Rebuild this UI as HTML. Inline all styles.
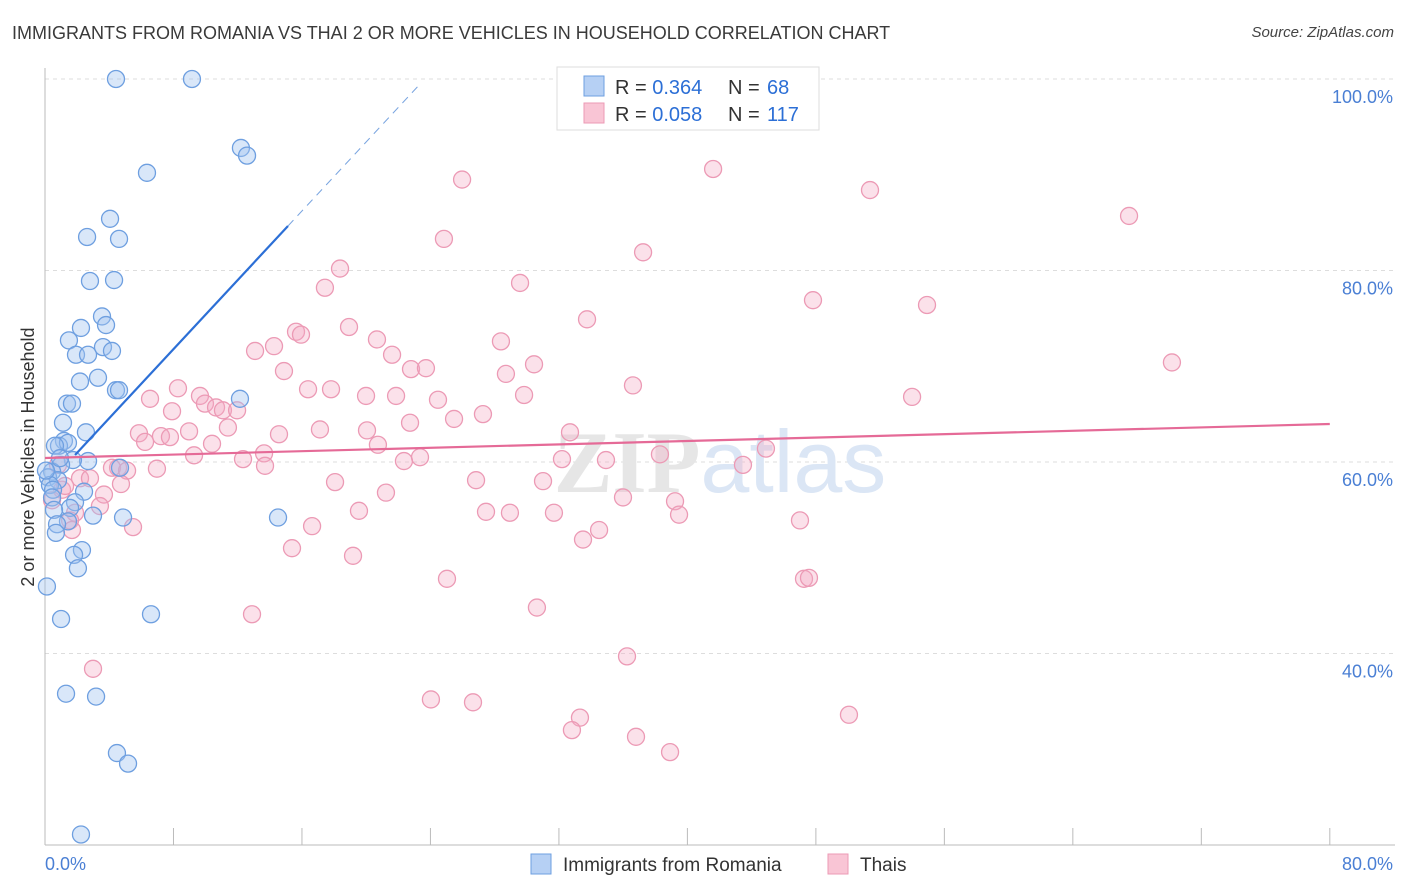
<!DOCTYPE html>
<html><head><meta charset="utf-8">
<style>
body{margin:0;background:#fff;font-family:"Liberation Sans",sans-serif;}
#wrap{position:relative;width:1406px;height:892px;overflow:hidden;}
.title{position:absolute;left:12px;top:23px;font-size:18px;color:#3a3a3a;}
.source{position:absolute;right:12px;top:24px;font-size:15px;color:#444;font-style:italic;}
</style></head>
<body>
<div id="wrap">
<div class="title">IMMIGRANTS FROM ROMANIA VS THAI 2 OR MORE VEHICLES IN HOUSEHOLD CORRELATION CHART</div>
<div class="source">Source: ZipAtlas.com</div>
<svg id="chart" width="1406" height="892" style="position:absolute;left:0;top:0"></svg>
</div>
<script>
const blueX=[4.42,9.15,12.2,12.58,6.35,4.05,2.62,4.61,2.8,4.3,3.55,2.24,3.8,1.49,1.93,2.68,3.61,4.17,3.3,2.18,4.42,4.61,12.14,1.37,1.68,1.12,2.55,1.18,0.87,1.43,0.62,2.68,1.74,1.0,0.44,0.19,0.81,0.31,0.5,2.43,0.44,1.87,1.56,0.56,2.99,4.86,14.51,1.43,0.75,0.68,2.3,1.81,2.05,0.12,1.0,6.6,1.31,3.18,4.48,5.17,2.24,4.67,0.06,0.93];
const blueY=[100,100,92.8,92.0,90.2,85.4,83.5,83.3,78.9,79.0,75.2,74.0,74.3,72.7,71.2,71.2,72.0,71.6,68.8,68.4,67.5,67.5,66.6,66.1,66.1,64.1,63.1,62.2,61.7,62.0,61.7,60.1,60.2,59.7,59.0,58.4,58.1,57.6,57.1,56.9,56.3,55.8,55.2,55.0,54.4,54.2,54.2,53.8,53.5,52.6,50.8,50.3,48.9,47.0,43.6,44.1,35.8,35.5,29.6,28.5,21.1,59.4,59.1,60.4];
const pinkX=[25.97,41.6,51.37,67.5,24.84,37.24,18.37,17.43,29.58,47.82,54.92,33.75,15.63,15.94,18.93,20.67,28.39,13.08,14.26,21.61,70.17,30.45,14.88,22.79,23.72,28.7,8.28,16.38,17.81,36.61,6.54,9.65,19.99,21.86,24.47,29.83,53.99,7.91,9.96,10.65,11.08,11.96,27.27,25.47,11.39,17.12,22.73,20.05,5.85,8.97,7.22,7.78,14.57,32.69,10.4,6.23,20.73,13.64,9.28,12.33,23.35,22.35,32.19,34.93,38.29,44.89,43.46,4.55,4.17,5.11,6.97,13.7,18.06,26.84,31.01,4.73,1.06,3.67,21.23,35.99,39.23,3.42,1.87,19.55,27.46,28.95,31.69,39.48,47.01,5.48,16.63,34.5,33.5,15.38,19.18,25.03,47.26,47.57,30.63,12.89,36.24,2.99,24.03,26.65,33.31,32.81,36.8,38.92,50.06,2.18,1.25,1.56,0.81,0.44,2.8,1.68];
const pinkY=[89.5,90.6,88.4,85.7,83.3,81.9,80.2,78.2,78.7,76.9,76.4,74.9,73.6,73.3,74.1,72.8,72.6,71.6,72.1,71.2,70.4,70.2,69.5,69.7,69.8,69.2,67.7,67.6,67.6,68.0,66.6,66.9,66.9,66.9,66.5,67.0,66.8,65.3,66.1,65.7,65.4,65.4,65.0,64.5,63.6,63.4,64.1,63.3,63.0,63.2,62.7,62.6,62.9,63.1,61.9,62.1,61.8,60.9,60.7,60.3,60.5,60.1,60.3,60.2,60.8,61.4,59.7,59.4,59.4,59.1,59.3,59.6,57.9,58.1,58.0,57.7,57.1,56.6,56.8,56.3,55.9,55.4,54.7,54.9,54.8,54.7,54.7,54.5,53.9,53.2,53.3,52.9,51.9,51.0,50.2,47.8,47.8,47.9,44.8,44.1,39.7,38.4,35.2,34.9,33.3,32.0,31.3,29.7,33.6,58.3,57.5,53.9,59.7,56.0,58.3,52.9];
const blueTrend=[[1.87,60.73],[15.13,84.65],[23.2,99.2]];
const pinkTrend=[[0,60.42],[80,63.97]];
const yTicks=[100,80,60,40];
const yTickLabels=["100.0%","80.0%","60.0%","40.0%"];
const xTicks=[0,8,16,24,32,40,48,56,64,72,80];

const NS="http://www.w3.org/2000/svg";
const svg=document.getElementById('chart');
const sx=v=>45+v*16.06;
const sy=v=>845-(v-20)*9.575;
function mk(t,a){const e=document.createElementNS(NS,t);for(const k in a)e.setAttribute(k,a[k]);svg.appendChild(e);return e;}

yTicks.forEach((v,i)=>{
 const g=mk('line',{x1:45,x2:1395,y1:sy(v),y2:sy(v),stroke:'#dddddd','stroke-dasharray':'4,4'});
 
 
 const t=mk('text',{x:1393,y:sy(v)+24,'text-anchor':'end','font-size':18,fill:'#4a7fd4','font-family':'Liberation Sans, sans-serif'});
 t.textContent=yTickLabels[i];
 
 
});
let ax=mk('line',{x1:45,x2:45,y1:68,y2:845,stroke:'#bbbbbb'});


ax=mk('line',{x1:45,x2:1395,y1:845,y2:845,stroke:'#bbbbbb'});


xTicks.forEach(v=>{
 const l=mk('line',{x1:sx(v),x2:sx(v),y1:828,y2:845,stroke:'#bbbbbb'});
 
 
});
[[0,'0.0%','start',45],[80,'80.0%','end',1393]].forEach(d=>{
 const t=mk('text',{x:d[3],y:870,'text-anchor':d[2],'font-size':18,fill:'#4a7fd4'});
 t.textContent=d[1];
 
 
});
let yt=mk('text',{x:34,y:457,'text-anchor':'middle','font-size':18,fill:'#333',transform:'rotate(-90 34 457)'});
yt.textContent='2 or more Vehicles in Household';



let wm=mk('text',{x:720,y:492,'text-anchor':'middle','font-size':88,fill:'#e6e6e6','font-family':'Liberation Serif, serif'});
wm.innerHTML='<tspan font-weight="bold">ZIP</tspan><tspan font-family="Liberation Sans, sans-serif" fill="#dbe6f5">atlas</tspan>';



pinkX.forEach((x,i)=>{
 const c=mk('circle',{cx:sx(x),cy:sy(pinkY[i]),r:8.5,fill:'rgba(244,170,195,0.35)',stroke:'#ec9ab5','stroke-width':1.3});
 
 
});
blueX.forEach((x,i)=>{
 const c=mk('circle',{cx:sx(x),cy:sy(blueY[i]),r:8.5,fill:'rgba(160,195,240,0.4)',stroke:'#6e9fe0','stroke-width':1.3});
 
 
});
let tl=mk('line',{x1:sx(blueTrend[0][0]),y1:sy(blueTrend[0][1]),x2:sx(blueTrend[1][0]),y2:sy(blueTrend[1][1]),stroke:'#2c6fd6','stroke-width':2.2});


tl=mk('line',{x1:sx(blueTrend[1][0]),y1:sy(blueTrend[1][1]),x2:sx(blueTrend[2][0]),y2:sy(blueTrend[2][1]),stroke:'#7aa5e0','stroke-width':1,'stroke-dasharray':'8,6'});


tl=mk('line',{x1:sx(pinkTrend[0][0]),y1:sy(pinkTrend[0][1]),x2:sx(pinkTrend[1][0]),y2:sy(pinkTrend[1][1]),stroke:'#e56a97','stroke-width':2.2});



// top legend
let lb=mk('rect',{x:557,y:67,width:262,height:63,fill:'#fff',stroke:'#dddddd'});


[[76,'#b6d0f4','#6e9fe0','0.364','68'],[103,'#f9c5d5','#ec9ab5','0.058','117']].forEach(d=>{
 const r=mk('rect',{x:584,y:d[0],width:20,height:20,fill:d[1],stroke:d[2]});
 
 
 const t=mk('text',{x:615,y:d[0]+18,'font-size':20,fill:'#333'});
 t.innerHTML='R = <tspan fill="#2c6fd6">'+d[3]+'</tspan><tspan x="728">N = </tspan><tspan fill="#2c6fd6" x="767">'+d[4]+'</tspan>';
 
 
});
// bottom legend
[[531,'#b6d0f4','#6e9fe0','Immigrants from Romania'],[828,'#f9c5d5','#ec9ab5','Thais']].forEach(d=>{
 const r=mk('rect',{x:d[0],y:854,width:20,height:20,fill:d[1],stroke:d[2]});
 
 
 const t=mk('text',{x:d[0]+32,y:871,'font-size':19,fill:'#333'});
 t.textContent=d[3];
 
 
});
</script>
</body></html>
